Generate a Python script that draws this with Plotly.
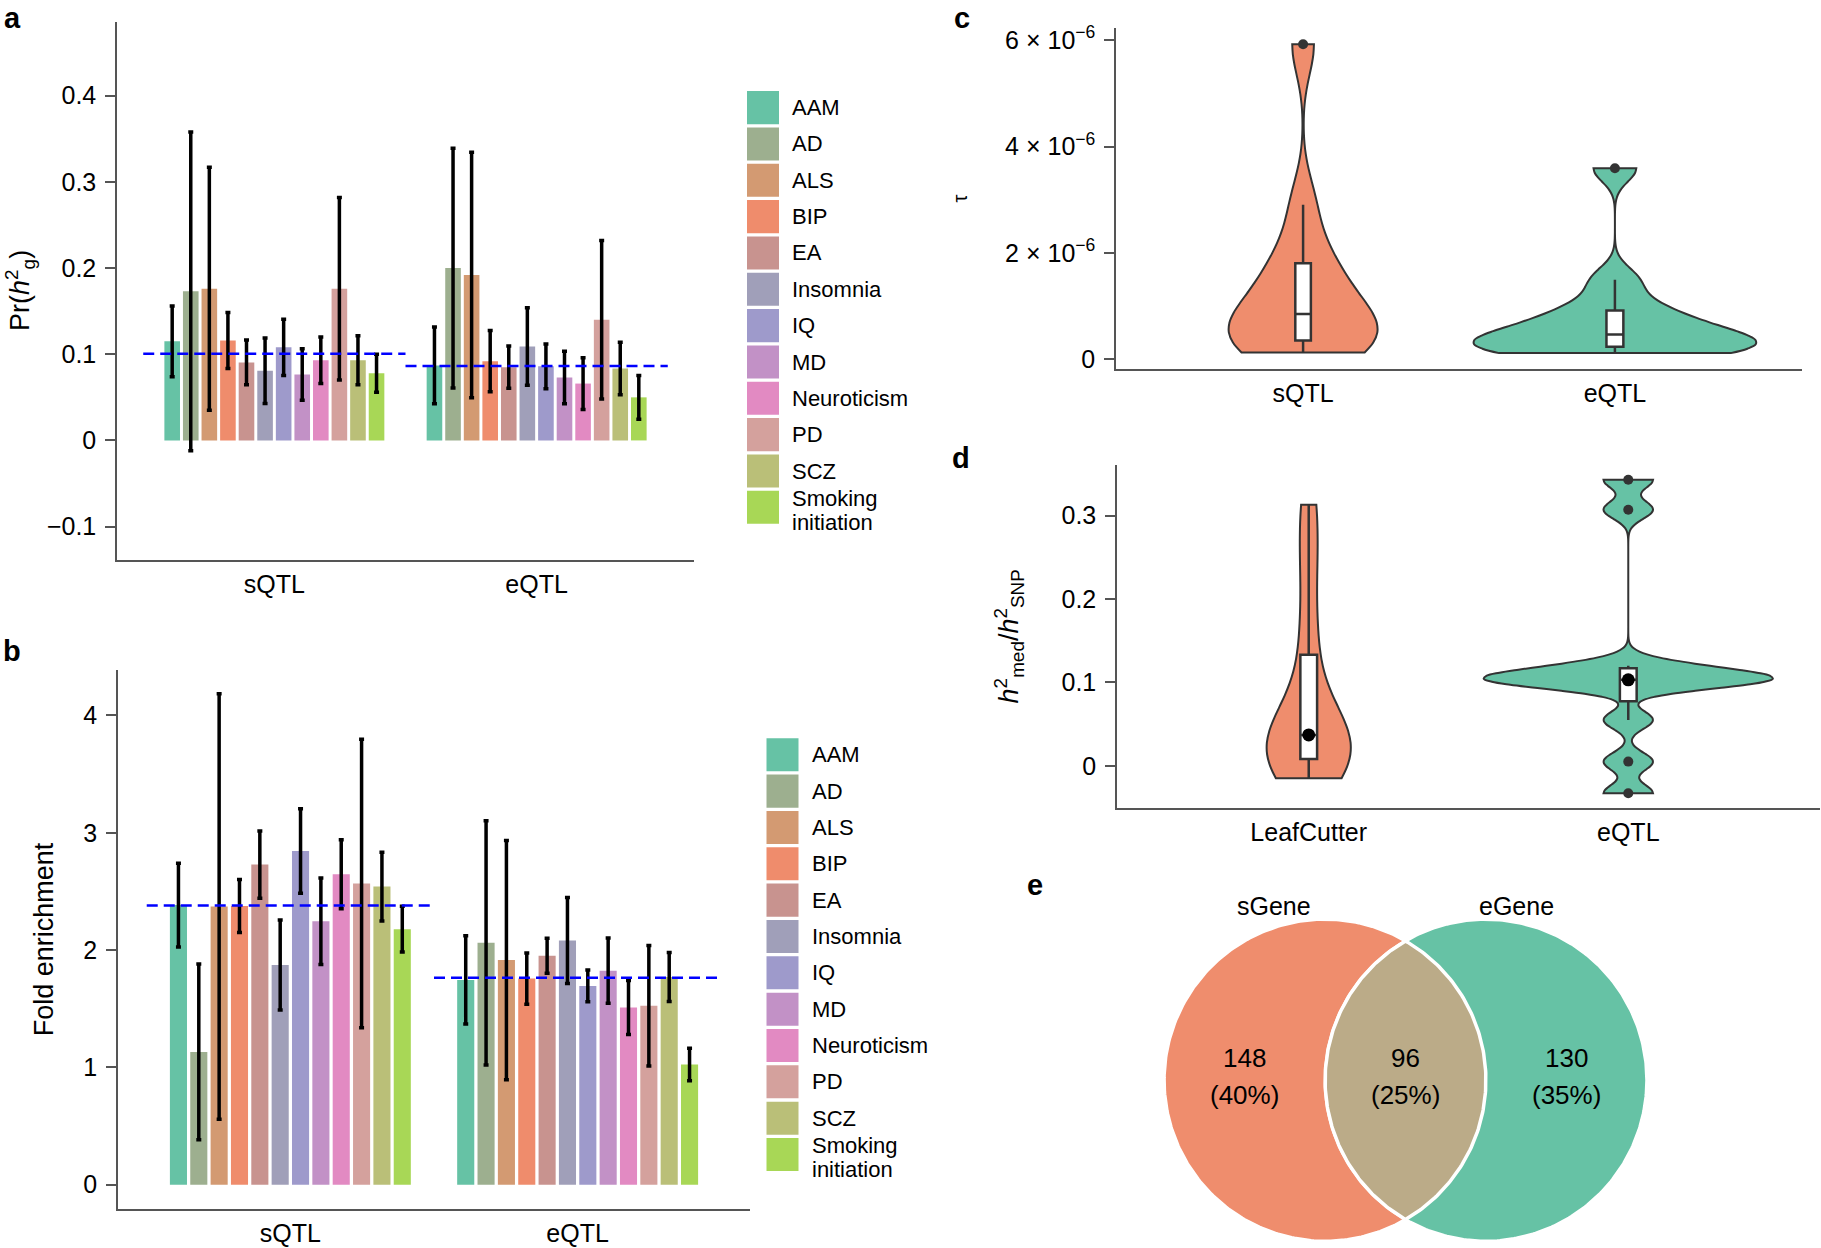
import numpy as np
import plotly.graph_objects as go

W, H = 1821, 1248
FONT = "Liberation Sans, Arial, Helvetica, sans-serif"

# ---------------- data ----------------
traits = ["AAM", "AD", "ALS", "BIP", "EA", "Insomnia", "IQ", "MD",
          "Neuroticism", "PD", "SCZ", "Smoking initiation"]
trait_colors = ["#66C2A5", "#9DAF8F", "#D39A72", "#EF8C6C", "#C8938F", "#A09FB9",
                "#9E9ACB", "#C291C6", "#E28AC2", "#D4A19D", "#BABF78", "#A8D756"]
qtl_groups = ["sQTL", "eQTL"]

# panel a : Pr(h2g)
prh2_sqtl = [0.115, 0.173, 0.176, 0.116, 0.0905, 0.081, 0.108, 0.0765, 0.093, 0.176, 0.093, 0.078]
prh2_sqtl_err = [0.041, 0.185, 0.141, 0.0325, 0.026, 0.038, 0.0325, 0.030, 0.027, 0.106, 0.0285, 0.022]
prh2_eqtl = [0.087, 0.200, 0.192, 0.092, 0.085, 0.109, 0.086, 0.073, 0.066, 0.140, 0.0835, 0.050]
prh2_eqtl_err = [0.0445, 0.139, 0.1425, 0.0355, 0.0245, 0.045, 0.026, 0.0305, 0.030, 0.092, 0.0305, 0.0255]

# panel b : fold enrichment
fold_sqtl = [2.384, 1.132, 2.372, 2.376, 2.729, 1.873, 2.845, 2.246, 2.647, 2.568, 2.542, 2.178]
fold_sqtl_err = [0.357, 0.749, 1.814, 0.226, 0.287, 0.383, 0.360, 0.368, 0.294, 1.229, 0.293, 0.195]
fold_eqtl = [1.746, 2.062, 1.915, 1.757, 1.952, 2.082, 1.695, 1.825, 1.511, 1.525, 1.771, 1.025]
fold_eqtl_err = [0.377, 1.041, 1.020, 0.219, 0.150, 0.366, 0.135, 0.279, 0.230, 0.514, 0.209, 0.138]

# panel c : tau (units of 1e-6)
tau_groups = ["sQTL", "eQTL"]
tau_sqtl = [0.13, 0.2, 0.32, 0.39, 0.55, 0.75, 0.96, 1.2, 1.7, 1.914, 2.907, 5.92]
tau_eqtl = [0.118, 0.15, 0.21, 0.262, 0.3, 0.42, 0.52, 0.65, 0.8, 1.038, 1.497, 3.59]
tau_ticks = [0, 2, 4, 6]

# panel d : h2med / h2SNP
ratio_groups = ["LeafCutter", "eQTL"]
ratio_leafcutter = [-0.015, -0.005, 0.004, 0.012, 0.025, 0.034, 0.04, 0.06, 0.1, 0.166, 0.245, 0.313]
ratio_eqtl = [-0.033, 0.005, 0.055, 0.1, 0.1005, 0.102, 0.104, 0.106, 0.114, 0.12, 0.307, 0.343]

# panel e : Venn
venn_sets = ["sGene", "eGene"]
venn_counts = [148, 96, 130]
venn_pcts = ["40%", "25%", "35%"]

ORANGE = "#EF8D6D"
TEAL = "#66C2A5"
LENS = "#BBAB88"
AXC = "#555555"


def px_x(p):
    return p / W


def px_y(p):
    return 1 - p / H


def bw_nrd0(v):
    v = np.asarray(v, float)
    q75, q25 = np.percentile(v, [75, 25])
    lo = min(np.std(v, ddof=1), (q75 - q25) / 1.34)
    return 0.9 * lo * len(v) ** -0.2


fig = go.Figure()

# ---------------- panels a, b: bars ----------------
bar_sets = [
    ("x", "y", prh2_sqtl, prh2_eqtl, prh2_sqtl_err, prh2_eqtl_err),
    ("x2", "y2", fold_sqtl, fold_eqtl, fold_sqtl_err, fold_eqtl_err),
]
shapes = []
for xa, ya, s_vals, e_vals, s_err, e_err in bar_sets:
    for i, t in enumerate(traits):
        fig.add_trace(go.Bar(
            x=qtl_groups, y=[s_vals[i], e_vals[i]], name=t,
            marker=dict(color=trait_colors[i], line=dict(width=0)),
            error_y=dict(type="data", array=[s_err[i], e_err[i]], color="black",
                         thickness=3.5, width=2.5),
            xaxis=xa, yaxis=ya, showlegend=False,
        ))
    for gi, vals in enumerate([s_vals, e_vals]):
        m = float(np.median(vals))
        shapes.append(dict(type="line", xref=xa, yref=ya, x0=gi - 0.5, x1=gi + 0.5,
                           y0=m, y1=m, line=dict(color="#0000FF", width=2.5, dash="11px,6px")))

# ---------------- panels c, d: violins ----------------
viol_sets = [
    ("x3", "y3", tau_groups[0], np.array(tau_sqtl) * 1e-6, ORANGE, 0.476, 0.105),
    ("x3", "y3", tau_groups[1], np.array(tau_eqtl) * 1e-6, TEAL, 0.903, 0.06),
    ("x4", "y4", ratio_groups[0], np.array(ratio_leafcutter), ORANGE, 0.262, 0.2),
    ("x4", "y4", ratio_groups[1], np.array(ratio_eqtl), TEAL, 0.905, 0.058),
]
for xa, ya, g, vals, col, wdt, bwid in viol_sets:
    fig.add_trace(go.Violin(
        x=[g] * len(vals), y=vals, xaxis=xa, yaxis=ya,
        fillcolor=col, line=dict(color="#333333", width=2), opacity=1,
        width=wdt, scalemode="width", spanmode="hard", bandwidth=bw_nrd0(vals),
        points="outliers", pointpos=0, jitter=0,
        marker=dict(color="#333333", size=10, line=dict(width=0)),
        box=dict(visible=True, width=bwid, fillcolor="white",
                 line=dict(color="#333333", width=2.5)),
        meanline=dict(visible=False), showlegend=False, hoverinfo="skip",
    ))

fig.add_trace(go.Scatter(
    x=ratio_groups, y=[float(np.median(ratio_leafcutter)), float(np.median(ratio_eqtl))],
    mode="markers", marker=dict(color="black", size=13), xaxis="x4", yaxis="y4",
    showlegend=False, hoverinfo="skip"))

# ---------------- panel e: Venn ----------------
r = 1.0
dist = 1.0
centers = [-dist / 2, dist / 2]
theta = np.linspace(0, 2 * np.pi, 361)
for cx, col in zip(centers, [ORANGE, TEAL]):
    fig.add_trace(go.Scatter(
        x=cx + r * np.cos(theta), y=r * np.sin(theta), mode="lines", fill="toself",
        fillcolor=col, line=dict(color="white", width=3), xaxis="x5", yaxis="y5",
        showlegend=False, hoverinfo="skip"))
phi = np.arccos((dist / 2) / r)
a1 = np.linspace(-phi, phi, 120)
a2 = np.linspace(np.pi - phi, np.pi + phi, 120)
lx = np.concatenate([centers[0] + r * np.cos(a1), centers[1] + r * np.cos(a2)])
ly = np.concatenate([r * np.sin(a1), r * np.sin(a2)])
fig.add_trace(go.Scatter(
    x=lx, y=ly, mode="lines", fill="toself", fillcolor=LENS,
    line=dict(color="white", width=3.5), xaxis="x5", yaxis="y5",
    showlegend=False, hoverinfo="skip"))

annotations = []
region_x = [centers[0] - r / 2, 0.0, centers[1] + r / 2]
for rx, cnt, pct in zip(region_x, venn_counts, venn_pcts):
    annotations.append(dict(x=rx, y=0.14, xref="x5", yref="y5", text=str(cnt), showarrow=False,
                            font=dict(family=FONT, size=26, color="black")))
    annotations.append(dict(x=rx, y=-0.095, xref="x5", yref="y5", text="(" + pct + ")", showarrow=False,
                            font=dict(family=FONT, size=26, color="black")))
for sx, name in zip([-0.82, 0.69], venn_sets):
    annotations.append(dict(x=sx, y=1.086, xref="x5", yref="y5", text=name, showarrow=False,
                            font=dict(family=FONT, size=25, color="black")))

# ---------------- legends (a and b) ----------------
for left, top0, lab_x in [(747, 86.7, 790), (766.5, 738.6, 809.5)]:
    for i, (t, c) in enumerate(zip(traits, trait_colors)):
        top = top0 + 36.6 * i
        shapes.append(dict(type="rect", xref="paper", yref="paper",
                           x0=px_x(left), x1=px_x(left + 32), y0=px_y(top + 33.3), y1=px_y(top),
                           fillcolor=c, line=dict(width=0)))
        cy = top + 16.7
        parts = t.split(" ")
        offs = [0] if len(parts) == 1 else [-9, 15]
        for p, o in zip(parts, offs):
            annotations.append(dict(x=px_x(lab_x), y=px_y(cy + o), xref="paper", yref="paper",
                                    text=p, showarrow=False, xanchor="left", yanchor="middle",
                                    font=dict(family=FONT, size=22, color="black")))

# ---------------- axis titles and panel letters ----------------
titles = [
    ("Pr(<i>h</i><sup>2</sup><sub>g</sub>)", 20, 288, 27),
    ("Fold enrichment", 44, 941, 27),
    ("τ", 960, 195, 20),
    ("<i>h</i><sup>2</sup><sub>med</sub>/<i>h</i><sup>2</sup><sub>SNP</sub>", 1009, 636, 27),
]
for txt, xx, yy, sz in titles:
    annotations.append(dict(x=px_x(xx), y=px_y(yy), xref="paper", yref="paper", text=txt,
                            textangle=-90, showarrow=False, xanchor="center", yanchor="middle",
                            font=dict(family=FONT, size=sz, color="black")))

letters = [("a", 3, 13), ("b", 2, 651), ("c", 953, 13), ("d", 951, 456), ("e", 1026, 886)]
for txt, xx, yy in letters:
    annotations.append(dict(x=px_x(xx), y=px_y(yy), xref="paper", yref="paper",
                            text="<b>" + txt + "</b>", showarrow=False, xanchor="left",
                            yanchor="middle", borderpad=0,
                            font=dict(family=FONT, size=29, color="black")))

# ---------------- axes ----------------
tickfont = dict(family=FONT, size=25, color="black")
xcat = dict(type="category", showline=True, linecolor=AXC, linewidth=1.5, showgrid=False,
            zeroline=False, ticks="", tickfont=tickfont, range=[-0.6, 1.6], ticklabelstandoff=1)
ynum = dict(showline=True, linecolor=AXC, linewidth=1.5, showgrid=False, zeroline=False,
            ticks="outside", ticklen=10, tickwidth=1.5, tickcolor=AXC, tickfont=tickfont,
            ticklabelstandoff=4)

layout_axes = dict(
    xaxis=dict(xcat, domain=[px_x(117), px_x(694)], anchor="y",
               categoryorder="array", categoryarray=qtl_groups),
    yaxis=dict(ynum, domain=[px_y(559), px_y(17)], anchor="x", range=[-0.1387, 0.4857],
               tick0=0, dtick=0.1),
    xaxis2=dict(xcat, domain=[px_x(118), px_x(750)], anchor="y2",
                categoryorder="array", categoryarray=qtl_groups),
    yaxis2=dict(ynum, domain=[px_y(1213), px_y(670)], anchor="x2", range=[-0.209, 4.386],
                tick0=0, dtick=1),
    xaxis3=dict(xcat, domain=[px_x(1116), px_x(1802)], anchor="y3",
                categoryorder="array", categoryarray=tau_groups),
    yaxis3=dict(ynum, domain=[px_y(367), px_y(23)], anchor="x3", range=[-0.187e-6, 6.23e-6],
                tickvals=[v * 1e-6 for v in tau_ticks],
                ticktext=["0" if v == 0 else f"{v} × 10<sup>−6</sup>" for v in tau_ticks]),
    xaxis4=dict(xcat, domain=[px_x(1117), px_x(1820)], anchor="y4",
                categoryorder="array", categoryarray=ratio_groups),
    yaxis4=dict(ynum, domain=[px_y(809), px_y(463)], anchor="x4", range=[-0.0508, 0.361],
                tick0=0, dtick=0.1),
    xaxis5=dict(domain=[px_x(1146.3), px_x(1664.7)], anchor="y5", range=[-1.6, 1.6],
                visible=False),
    yaxis5=dict(domain=[0, px_y(872.4)], anchor="x5", range=[-1.0185, 1.3003],
                visible=False, scaleanchor="x5"),
)

fig.update_layout(
    width=W, height=H, margin=dict(l=0, r=0, t=0, b=0),
    paper_bgcolor="white", plot_bgcolor="white",
    barmode="group", bargap=0.15, bargroupgap=0.16, violinmode="overlay",
    showlegend=False, shapes=shapes, annotations=annotations,
    font=dict(family=FONT, size=25, color="black"),
    **layout_axes,
)

fig.write_html("out.html", config={"displayModeBar": False},
               post_script="document.body.style.margin='0px';")
